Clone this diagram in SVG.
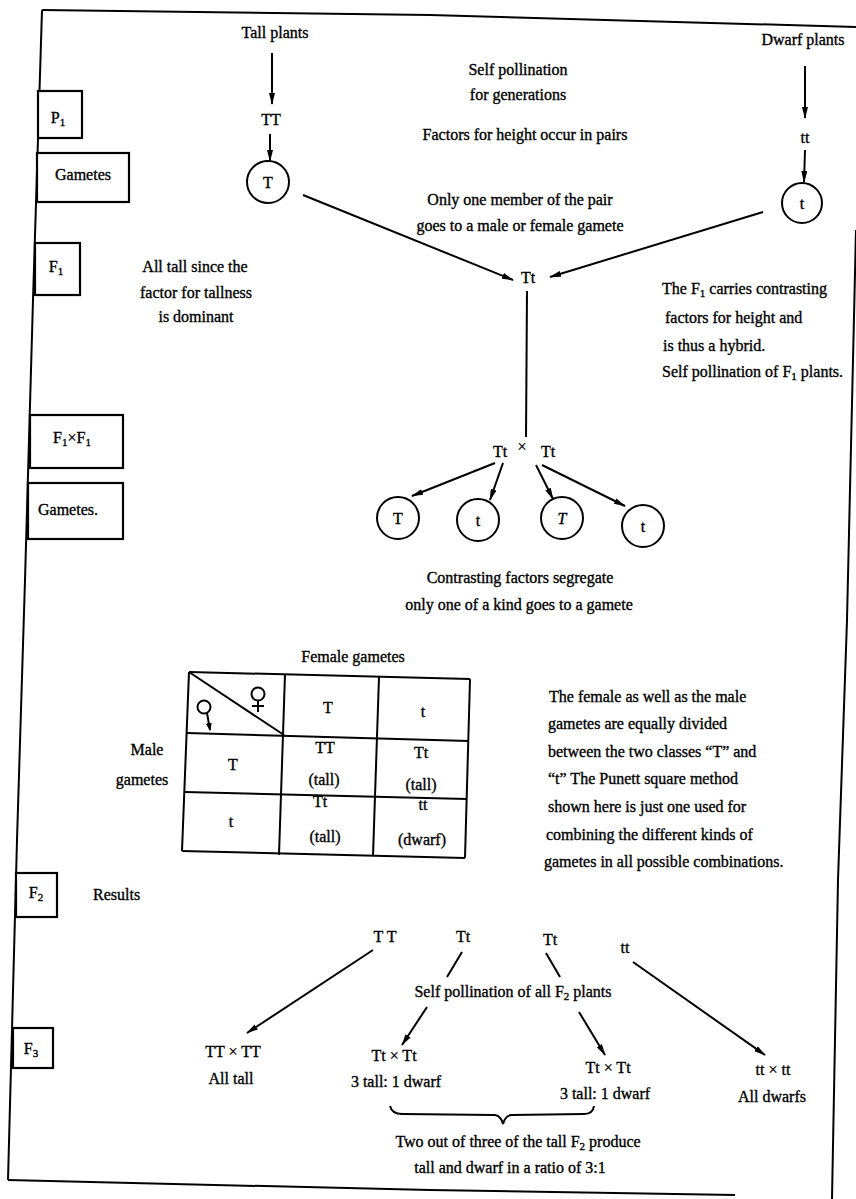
<svg xmlns="http://www.w3.org/2000/svg" width="856" height="1199" viewBox="0 0 856 1199">
  <defs>
    <marker id="ah" viewBox="0 0 12 6" refX="11" refY="3" markerWidth="12" markerHeight="6" markerUnits="userSpaceOnUse" orient="auto">
      <path d="M0,0 L12,3 L0,6 z" fill="#000"/>
    </marker>
    <marker id="ahs" viewBox="0 0 8 6" refX="7" refY="3" markerWidth="8" markerHeight="6" markerUnits="userSpaceOnUse" orient="auto">
      <path d="M0,0 L8,3 L0,6 z" fill="#000"/>
    </marker>
    <style>
      text { font-family: "Liberation Serif", "Times New Roman", serif; font-size: 16px; fill: #000; stroke: #000; stroke-width: 0.35; }
      .c { text-anchor: middle; }
      .sub { font-size: 11px; }
      .ln { stroke: #000; stroke-width: 2; fill: none; }
      .ar { stroke: #000; stroke-width: 2; fill: none; marker-end: url(#ah); }
      .box { stroke: #000; stroke-width: 2.2; fill: #fff; }
      .gam { stroke: #000; stroke-width: 2; fill: #fff; }
    </style>
  </defs>

  <rect width="856" height="1199" fill="#fff"/>

  <!-- outer frame -->
  <g id="frame" class="ln" stroke-width="2.4">
    <polyline points="42,10 430,15 856,27"/>
    <polyline points="42,10 33,300 25,580 17,840 8,1180"/>
    <polyline points="8,1180 430,1190 735,1195"/>
    <polyline points="856,230 847,620 838,880 832,1199"/>
  </g>

  <!-- generation labels on the left -->
  <g id="label-p1"><rect class="box" x="38" y="91" width="44" height="47"/><text class="c" x="58" y="123">P<tspan class="sub" dy="3">1</tspan></text></g>
  <g id="label-gametes1"><rect class="box" x="37" y="153" width="92" height="49"/><text class="c" x="83" y="180">Gametes</text></g>
  <g id="label-f1"><rect class="box" x="35" y="243" width="45" height="52"/><text class="c" x="56" y="272">F<tspan class="sub" dy="3">1</tspan></text></g>
  <g id="label-f1xf1"><rect class="box" x="30" y="415" width="93" height="53"/><text class="c" x="72" y="443">F<tspan class="sub" dy="3">1</tspan><tspan dy="-3">×F</tspan><tspan class="sub" dy="3">1</tspan></text></g>
  <g id="label-gametes2"><rect class="box" x="28" y="483" width="95" height="56"/><text class="c" x="68" y="515">Gametes.</text></g>
  <g id="label-f2"><rect class="box" x="16" y="873" width="41" height="44"/><text class="c" x="36" y="898">F<tspan class="sub" dy="3">2</tspan></text></g>
  <g id="label-f3"><rect class="box" x="13" y="1028" width="40" height="40"/><text class="c" x="31" y="1054">F<tspan class="sub" dy="3">3</tspan></text></g>

  <!-- connectors -->
  <g id="connectors">
    <line class="ar" x1="272" y1="53" x2="272" y2="104"/>
    <line class="ar" x1="270" y1="134" x2="270" y2="161"/>
    <line class="ar" x1="805" y1="66" x2="805" y2="118"/>
    <line class="ar" x1="805" y1="150" x2="804" y2="182"/>
    <line class="ar" x1="303" y1="195" x2="513" y2="280"/>
    <line class="ar" x1="763" y1="212" x2="550" y2="277"/>
    <line class="ln" x1="527" y1="291" x2="526" y2="437"/>
    <line class="ar" x1="495" y1="463" x2="412" y2="496"/>
    <line class="ar" x1="503" y1="463" x2="490" y2="500"/>
    <line class="ar" x1="536" y1="465" x2="553" y2="499"/>
    <line class="ar" x1="542" y1="465" x2="625" y2="506"/>
    <line class="ar" x1="373" y1="950" x2="247" y2="1033"/>
    <line class="ln" x1="462" y1="952" x2="447" y2="977"/>
    <line class="ln" x1="546" y1="953" x2="560" y2="977"/>
    <line class="ar" x1="427" y1="1007" x2="402" y2="1045"/>
    <line class="ar" x1="579" y1="1012" x2="605" y2="1055"/>
    <line class="ar" x1="633" y1="962" x2="765" y2="1055"/>
    <path class="ln" d="M390,1106 Q392,1114 402,1114 L495,1115 Q501,1116 503,1124 Q505,1116 511,1115 L584,1114 Q593,1114 594,1106"/>
  </g>

  <!-- parental generation -->
  <g id="tall-parent">
    <text class="c" x="275" y="38">Tall plants</text>
    <text class="c" x="271" y="125">TT</text>
  </g>
  <g id="gamete-T"><circle class="gam" cx="268" cy="182" r="21"/><text class="c" x="268" y="188">T</text></g>
  <g id="dwarf-parent">
    <text class="c" x="803" y="45">Dwarf plants</text>
    <text class="c" x="805" y="143">tt</text>
  </g>
  <g id="gamete-t"><circle class="gam" cx="802" cy="203" r="20"/><text class="c" x="802" y="209">t</text></g>

  <g id="notes-top">
    <text class="c" x="518" y="75">Self pollination</text>
    <text class="c" x="518" y="100">for generations</text>
    <text class="c" x="525" y="140">Factors for height occur in pairs</text>
    <text class="c" x="520" y="205">Only one member of the pair</text>
    <text class="c" x="520" y="231">goes to a male or female gamete</text>
  </g>

  <!-- F1 generation -->
  <g id="f1-hybrid"><text class="c" x="528" y="283">Tt</text></g>
  <g id="note-dominant">
    <text class="c" x="195" y="272">All tall since the</text>
    <text class="c" x="196" y="298">factor for tallness</text>
    <text class="c" x="196" y="322">is dominant</text>
  </g>
  <g id="note-hybrid">
    <text x="662" y="294">The F<tspan class="sub" dy="3">1</tspan><tspan dy="-3"> carries contrasting</tspan></text>
    <text x="665" y="323">factors for height and</text>
    <text x="663" y="351">is thus a hybrid.</text>
    <text x="662" y="377">Self pollination of F<tspan class="sub" dy="3">1</tspan><tspan dy="-3"> plants.</tspan></text>
  </g>

  <!-- F1 x F1 cross and its gametes -->
  <g id="f1-cross">
    <text class="c" x="500" y="457">Tt</text>
    <text class="c" x="522" y="452" font-size="13">×</text>
    <text class="c" x="548" y="457">Tt</text>
  </g>
  <g id="gamete-1"><circle class="gam" cx="398" cy="518" r="21"/><text class="c" x="398" y="524">T</text></g>
  <g id="gamete-2"><circle class="gam" cx="478" cy="520" r="21"/><text class="c" x="478" y="526">t</text></g>
  <g id="gamete-3"><circle class="gam" cx="562" cy="518" r="21"/><text class="c" x="562" y="524" font-style="italic">T</text></g>
  <g id="gamete-4"><circle class="gam" cx="643" cy="526" r="21"/><text class="c" x="643" y="532">t</text></g>
  <g id="note-segregate">
    <text class="c" x="520" y="583">Contrasting factors segregate</text>
    <text class="c" x="519" y="610">only one of a kind goes to a gamete</text>
  </g>

  <!-- Punnett square -->
  <g id="punnett-square">
    <text class="c" x="353" y="662">Female gametes</text>
    <text class="c" x="147" y="755">Male</text>
    <text class="c" x="142" y="785">gametes</text>
    <g class="ln" stroke-width="2.2">
      <line x1="189" y1="672" x2="470" y2="679"/>
      <line x1="187" y1="733" x2="469" y2="741"/>
      <line x1="185" y1="792" x2="467" y2="799"/>
      <line x1="182" y1="851" x2="465" y2="858"/>
      <line x1="189" y1="672" x2="182" y2="851"/>
      <line x1="285" y1="674" x2="279" y2="855"/>
      <line x1="379" y1="677" x2="373" y2="856"/>
      <line x1="470" y1="679" x2="465" y2="858"/>
      <line x1="189" y1="672" x2="284" y2="735"/>
    </g>
    <!-- female sign -->
    <g class="ln">
      <circle cx="258" cy="694" r="6.5"/>
      <line x1="258" y1="700.5" x2="258" y2="712"/>
      <line x1="252" y1="706" x2="264" y2="706"/>
    </g>
    <!-- male sign -->
    <g class="ln">
      <circle cx="204" cy="707" r="6.5"/>
      <line x1="207" y1="713" x2="210" y2="730" style="marker-end:url(#ahs)"/>
    </g>
    <text class="c" x="328" y="713">T</text>
    <text class="c" x="423" y="717">t</text>
    <text class="c" x="233" y="770">T</text>
    <text class="c" x="231" y="827">t</text>
    <text class="c" x="325" y="753">TT</text>
    <text class="c" x="324" y="785">(tall)</text>
    <text class="c" x="421" y="758">Tt</text>
    <text class="c" x="421" y="790">(tall)</text>
    <text class="c" x="320" y="807">Tt</text>
    <text class="c" x="325" y="842">(tall)</text>
    <text class="c" x="423" y="810">tt</text>
    <text class="c" x="422" y="845">(dwarf)</text>
  </g>
  <g id="note-punnett">
    <text x="549" y="702">The female as well as the male</text>
    <text x="548" y="729">gametes are equally divided</text>
    <text x="548" y="757">between the two classes “T” and</text>
    <text x="548" y="784">“t”  The Punett square method</text>
    <text x="548" y="812">shown here is just one used for</text>
    <text x="546" y="840">combining the different kinds of</text>
    <text x="544" y="867">gametes in all possible combinations.</text>
  </g>

  <!-- F2 results -->
  <g id="f2-results">
    <text x="93" y="900">Results</text>
    <text class="c" x="385" y="942">T T</text>
    <text class="c" x="463" y="942">Tt</text>
    <text class="c" x="550" y="945">Tt</text>
    <text class="c" x="625" y="953">tt</text>
  </g>
  <g id="note-selfpoll"><text class="c" x="513" y="997">Self pollination of all F<tspan class="sub" dy="3">2</tspan><tspan dy="-3"> plants</tspan></text></g>

  <!-- F3 outcomes -->
  <g id="f3-TT">
    <text class="c" x="233" y="1057">TT × TT</text>
    <text class="c" x="231" y="1084">All tall</text>
  </g>
  <g id="f3-Tt-1">
    <text class="c" x="394" y="1061">Tt × Tt</text>
    <text class="c" x="396" y="1087">3 tall: 1 dwarf</text>
  </g>
  <g id="f3-Tt-2">
    <text class="c" x="608" y="1073">Tt × Tt</text>
    <text class="c" x="605" y="1099">3 tall: 1 dwarf</text>
  </g>
  <g id="f3-tt">
    <text class="c" x="773" y="1075">tt × tt</text>
    <text class="c" x="772" y="1102">All dwarfs</text>
  </g>
  <g id="note-ratio">
    <text class="c" x="518" y="1147">Two out of three of the tall F<tspan class="sub" dy="3">2</tspan><tspan dy="-3"> produce</tspan></text>
    <text class="c" x="510" y="1173">tall and dwarf in a ratio of 3:1</text>
  </g>
</svg>
